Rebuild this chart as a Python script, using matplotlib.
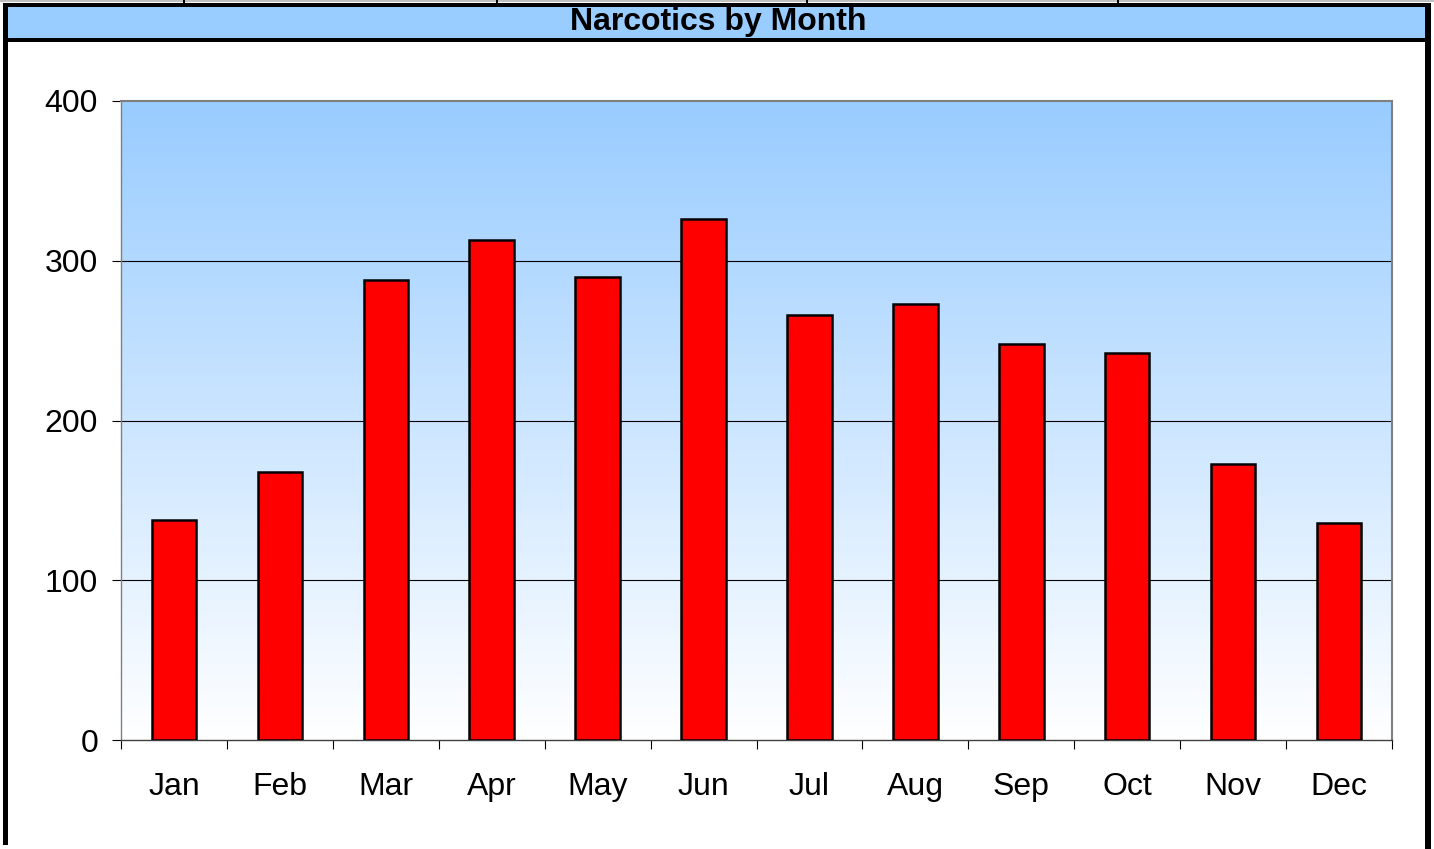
import matplotlib.pyplot as plt
import matplotlib.patches as patches
import numpy as np

months = ['Jan', 'Feb', 'Mar', 'Apr', 'May', 'Jun', 'Jul', 'Aug', 'Sep', 'Oct', 'Nov', 'Dec']
counts = [138, 168, 288, 313, 290, 326, 266, 273, 248, 242, 173, 136]
y_ticks = [0, 100, 200, 300, 400]

plt.rcParams['font.family'] = ['Liberation Sans', 'DejaVu Sans']

W, H = 1434, 849
fig = plt.figure(figsize=(W / 100, H / 100), dpi=100)

# frame around the chart area (spreadsheet style), given in pixels
def px_rect(x0, y0, x1, y1, **kw):
    fig.patches.append(patches.Rectangle((x0 / W, 1 - y1 / H), (x1 - x0) / W, (y1 - y0) / H,
                                         transform=fig.transFigure, **kw))

px_rect(0, 0, W, 2, facecolor='#c0c0c0', edgecolor='none')
for xs in [183, 496, 806, 1117]:
    px_rect(xs, 0, xs + 2, 3, facecolor='black', edgecolor='none')
px_rect(3, 3, 1431, 7, facecolor='black', edgecolor='none')
px_rect(8, 7, 1425, 38, facecolor='#99ccff', edgecolor='none')
px_rect(3, 38, 1431, 42, facecolor='black', edgecolor='none')
px_rect(3, 3, 8, 845, facecolor='black', edgecolor='none')
px_rect(1425, 3, 1431, H, facecolor='black', edgecolor='none')

fig.text(718 / W, 1 - 22 / H, 'Narcotics by Month', ha='center', va='center',
         fontsize=23, fontweight='bold')

ax = fig.add_axes([121 / W, 1 - 740 / H, (1392 - 121) / W, (740 - 101) / H])
x = np.arange(len(months))

# vertical gradient background: light blue at top fading to white
top = np.array([0x99, 0xcc, 0xff]) / 255
bottom = np.array([1.0, 1.0, 1.0])
t = np.linspace(0, 1, 256)
img = (bottom[None, :] + (top - bottom)[None, :] * t[:, None]).reshape(256, 1, 3)
ax.imshow(img, extent=[-0.5, 11.5, 0, 400], aspect='auto', origin='lower', zorder=0)

for yv in y_ticks[1:4]:
    ax.axhline(yv, color='black', linewidth=0.8, zorder=1)

ax.bar(x, counts, width=0.42, color='#ff0000', edgecolor='black', linewidth=1.8, zorder=3)

ax.set_xlim(-0.5, 11.5)
ax.set_ylim(0, 400)
ax.set_yticks(y_ticks)
ax.set_yticklabels([str(v) for v in y_ticks], fontsize=23)
ax.set_xticks(np.arange(-0.5, 12, 1))
ax.set_xticklabels([])
ax.set_xticks(x, minor=True)
ax.set_xticklabels(months, minor=True, fontsize=23)
ax.tick_params(axis='x', which='minor', length=0, pad=23)
ax.tick_params(axis='x', which='major', length=6.5, width=0.8, direction='out')
ax.tick_params(axis='y', length=6.5, width=0.8, direction='out', pad=10)

for side in ['top', 'right']:
    ax.spines[side].set_color('#808080')
    ax.spines[side].set_linewidth(1.5)
ax.spines['left'].set_color('#808080')
ax.spines['left'].set_linewidth(1.0)
ax.spines['bottom'].set_color('#404040')
ax.spines['bottom'].set_linewidth(1.0)

fig.savefig('out.png', dpi=100)
